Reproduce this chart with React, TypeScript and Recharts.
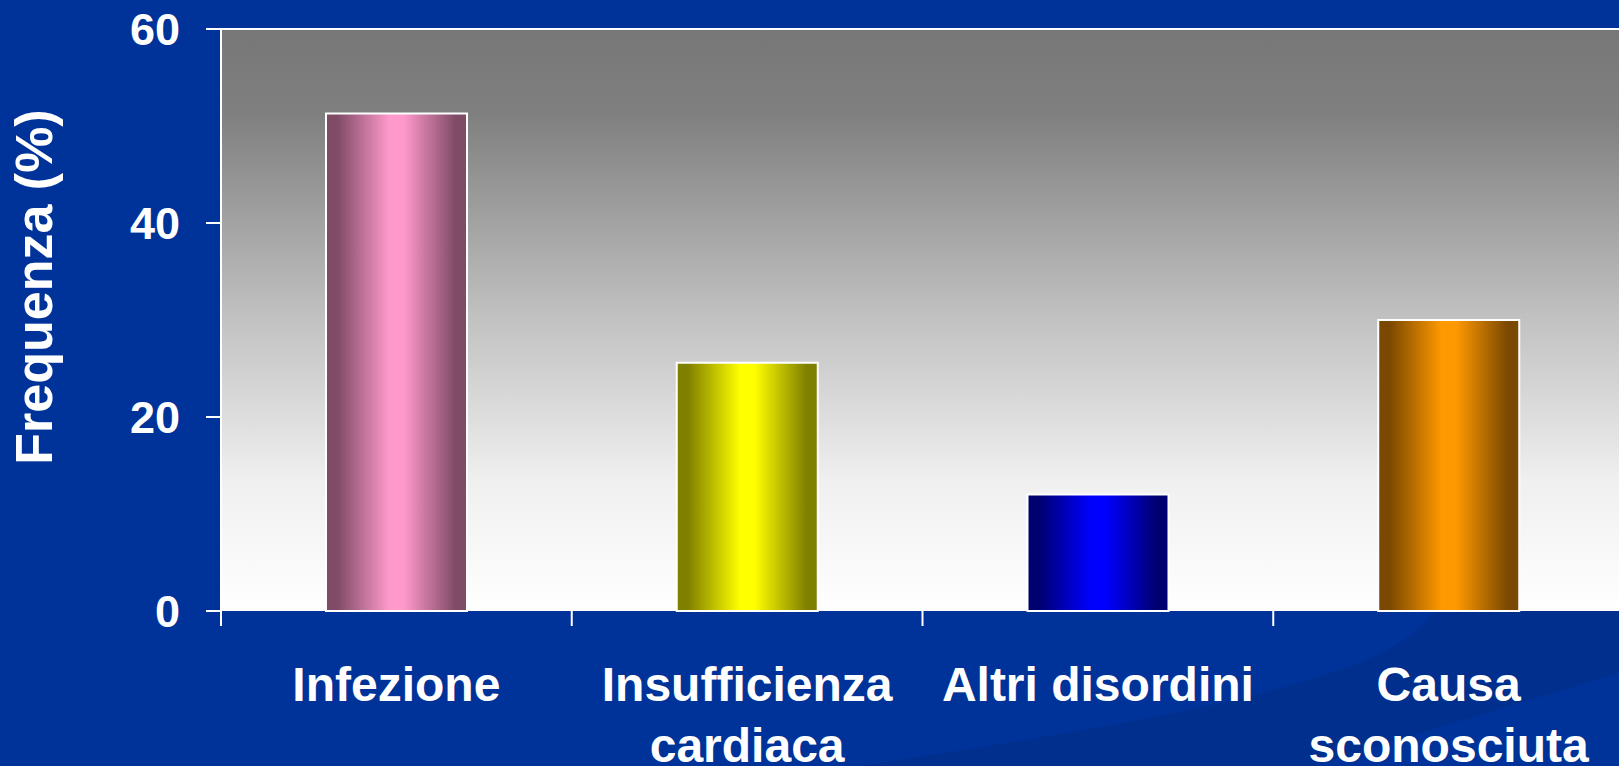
import { BarChart, Bar, XAxis, YAxis, Cell, CartesianGrid, ReferenceLine, Label } from "recharts";

const BG_BLUE = "#003399";
const WHITE = "#ffffff";
const FONT = "'Liberation Sans', Arial, sans-serif";

// categories (line breaks = label wrapping in the original slide)
const categories = ["Infezione", "Insufficienza\ncardiaca", "Altri disordini", "Causa\nsconosciuta"];
const frequencies = [51.3, 25.6, 12, 30];
const yTicks = [0, 20, 40, 60];
// [edge shade, centre shade] for each bar
const barShades = [
  ["#7f4b65", "#ff99cc"],
  ["#808000", "#ffff00"],
  ["#000070", "#0000ff"],
  ["#7a4800", "#ff9900"],
];

const data = categories.map((name, i) => ({ name, value: frequencies[i] }));

// label + the tick mark the slide puts on the left boundary of each category band
function CategoryTick(props: any) {
  const { x, y, payload, index, width, visibleTicksCount } = props;
  const half = payload.offset ?? width / visibleTicksCount / 2;
  const lines = String(payload.value).split("\n");
  const last = index === visibleTicksCount - 1;
  return (
    <g>
      <line x1={x - half} y1={y} x2={x - half} y2={y + 15} stroke={WHITE} strokeWidth={2} />
      {last && <line x1={x + half} y1={y} x2={x + half} y2={y + 15} stroke={WHITE} strokeWidth={2} />}
      <text x={x} y={y} textAnchor="middle" fill={WHITE} fontSize={48} fontWeight="bold" fontFamily={FONT}>
        {lines.map((line, i) => (
          <tspan key={i} x={x} y={y + 90 + i * 61}>
            {line}
          </tspan>
        ))}
      </text>
    </g>
  );
}

function YTitle(props: any) {
  const vb = props.viewBox;
  const cx = vb.x + 52;
  const cy = vb.y + vb.height / 2 - 33;
  return (
    <text
      x={cx}
      y={cy}
      transform={`rotate(-90 ${cx} ${cy})`}
      textAnchor="middle"
      fill={WHITE}
      fontSize={52}
      fontWeight="bold"
      fontFamily={FONT}
    >
      Frequenza (%)
    </text>
  );
}

export default function App() {
  return (
    <div
      style={{
        position: "absolute",
        left: 0,
        top: 0,
        width: 1619,
        height: 766,
        overflow: "hidden",
        background: BG_BLUE,
        fontFamily: FONT,
      }}
    >
      {/* slide background swooshes */}
      <svg width={1619} height={766} style={{ position: "absolute", left: 0, top: 0 }}>
        <path d="M1432,611 C1400,680 1150,722 860,766 L1311,766 L1619,673 L1619,611 Z" fill="#002f8e" />
      </svg>
      <div style={{ position: "absolute", left: 0, top: 0 }}>
        <BarChart width={1640} height={766} data={data} margin={{ top: 29, right: 16, left: 0, bottom: 0 }}>
          <defs>
            <linearGradient id="plotBg" x1="0" y1="0" x2="0" y2="1">
              <stop offset="0" stopColor="#777777" />
              <stop offset="0.15" stopColor="#808080" />
              <stop offset="0.5" stopColor="#c2c2c2" />
              <stop offset="0.78" stopColor="#f0f0f0" />
              <stop offset="1" stopColor="#ffffff" />
            </linearGradient>
            {barShades.map(([edge, mid], i) => (
              <linearGradient key={i} id={`bar-${i}`} x1="0" y1="0" x2="1" y2="0">
                <stop offset="0" stopColor={edge} />
                <stop offset="0.08" stopColor={edge} />
                <stop offset="0.45" stopColor={mid} />
                <stop offset="0.55" stopColor={mid} />
                <stop offset="0.92" stopColor={edge} />
                <stop offset="1" stopColor={edge} />
              </linearGradient>
            ))}
          </defs>
          <CartesianGrid horizontal={false} vertical={false} fill="url(#plotBg)" />
          <XAxis
            dataKey="name"
            height={155}
            interval={0}
            axisLine={false}
            tickLine={false}
            tickSize={0}
            tickMargin={0}
            tick={<CategoryTick />}
          />
          <YAxis
            width={221}
            domain={[0, 60]}
            ticks={yTicks}
            interval={0}
            tickSize={15}
            tickMargin={26}
            axisLine={{ stroke: WHITE, strokeWidth: 2 }}
            tickLine={{ stroke: WHITE, strokeWidth: 2 }}
            tick={{ fill: WHITE, fontSize: 45, fontWeight: "bold", fontFamily: FONT }}
          >
            <Label content={<YTitle />} />
          </YAxis>
          <ReferenceLine y={60} stroke={WHITE} strokeWidth={2} />
          <Bar dataKey="value" barSize={141} stroke={WHITE} strokeWidth={2} isAnimationActive={false}>
            {data.map((_, i) => (
              <Cell key={`bar-${i}`} fill={`url(#bar-${i})`} />
            ))}
          </Bar>
        </BarChart>
      </div>
    </div>
  );
}
